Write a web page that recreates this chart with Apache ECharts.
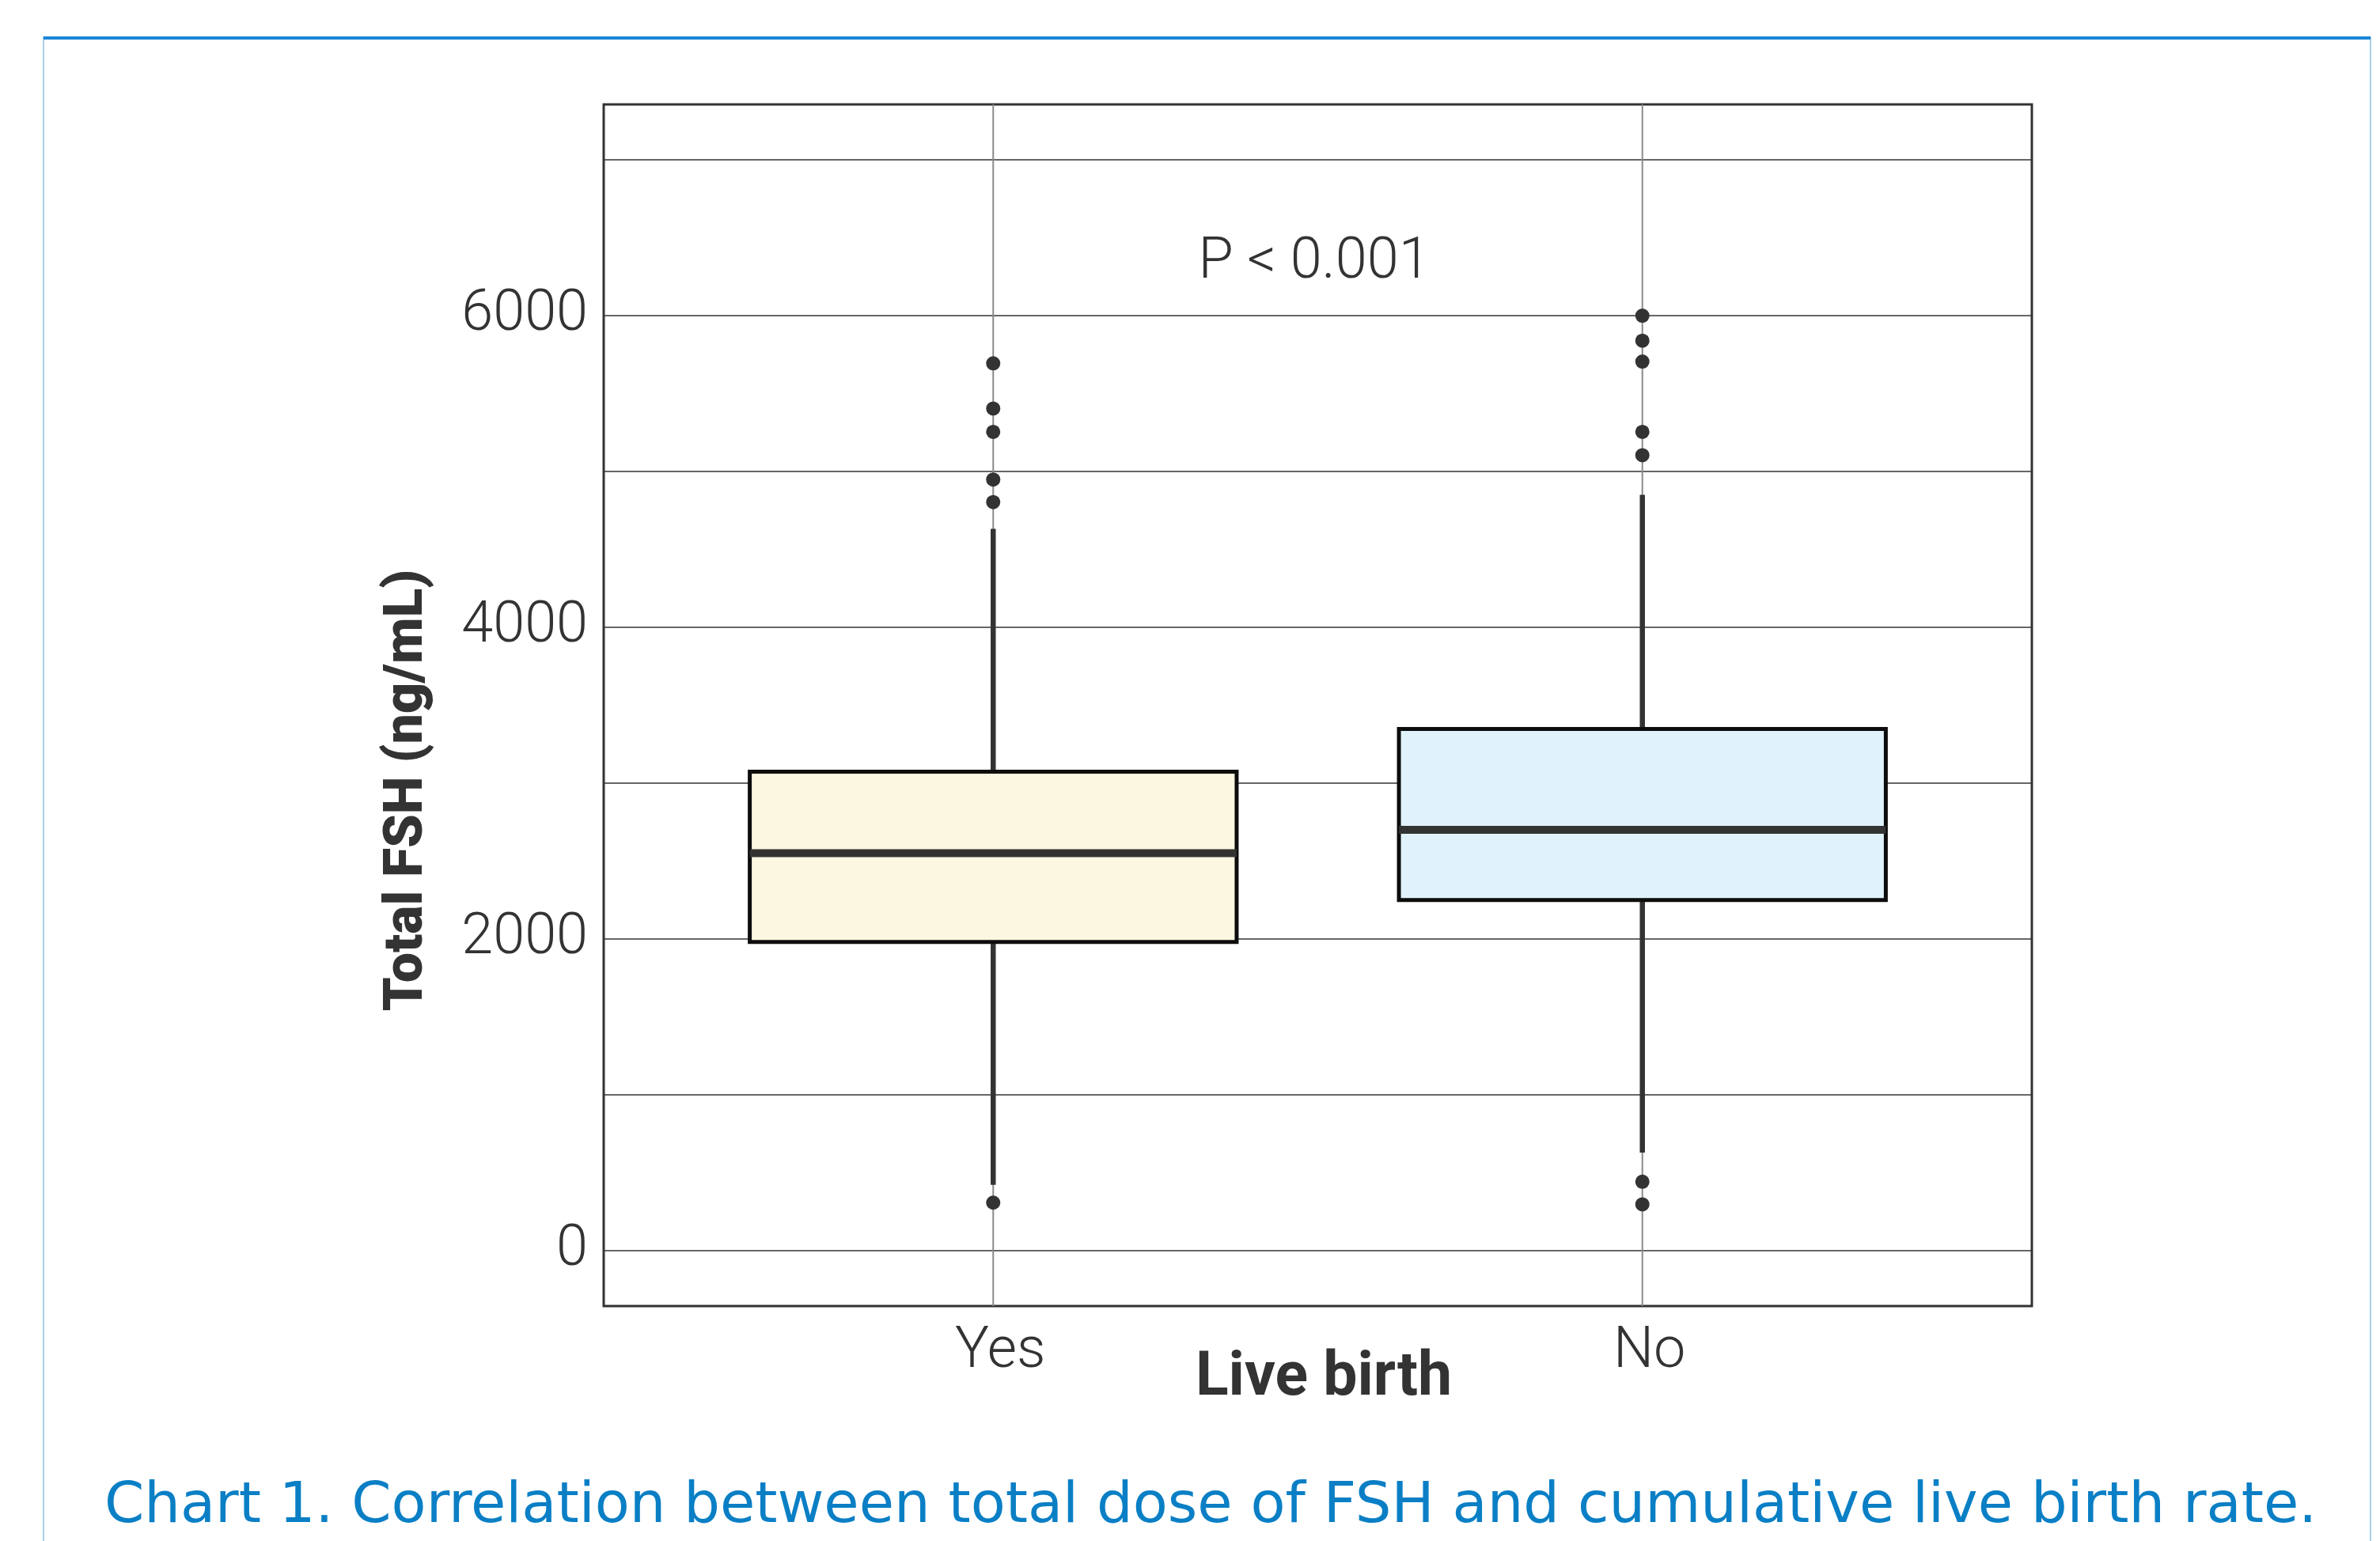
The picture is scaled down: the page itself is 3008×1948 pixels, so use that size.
<!DOCTYPE html>
<html>
<head>
<meta charset="utf-8">
<title>Total FSH and live birth</title>
<script src="https://cdn.jsdelivr.net/npm/echarts@6/dist/echarts.min.js"></script>
<style>
  html, body { margin: 0; padding: 0; background: #fff; }
  #main { width: 3008px; height: 1948px; }
</style>
</head>
<body>
<div id="main"></div>
<script>
// groups on the x axis (placed at 1 and 2)
var groups = ['Yes', 'No']
// box statistics per group
var lowerWhisker = [420, 627]
var q1 = [1979, 2249]
var median = [2549, 2699]
var q3 = [3073, 3347]
var upperWhisker = [4632, 4850]
// outliers
var outliersYes = [5694, 5404, 5254, 4948, 4803, 306]
var outliersNo = [6000, 5839, 5705, 5254, 5104, 440, 295]
var yLabels = [0, 2000, 4000, 6000]

var fillColors = ['#fcf7e0', '#e0f3fa']

setChart()

function setChart() {
  var boxData = []
  for (var i = 0; i < groups.length; i++) {
    boxData.push([i + 1, lowerWhisker[i], q1[i], median[i], q3[i], upperWhisker[i]])
  }
  var pointData = []
  for (var a = 0; a < outliersYes.length; a++) pointData.push([1, outliersYes[a]])
  for (var b = 0; b < outliersNo.length; b++) pointData.push([2, outliersNo[b]])

  var myChart = echarts.init(document.getElementById('main'))
  var option = {
    backgroundColor: '#fff',
    animation: false,
    textStyle: { fontFamily: 'Roboto' },
    grid: {
      left: 763, top: 132, right: 440, bottom: 297,
      show: true, borderColor: '#333', borderWidth: 3
    },
    xAxis: {
      type: 'value',
      min: 0.4, max: 2.6,
      axisLine: { show: false },
      axisTick: { show: false },
      splitLine: { show: false },
      axisLabel: {
        customValues: [1, 2],
        formatter: function(v) { return groups[Math.round(v) - 1] || '' },
        fontSize: 72, fontWeight: 300, color: '#333', margin: 23,
        padding: [0, 0, 0, 18]
      }
    },
    yAxis: {
      type: 'value',
      min: -358, max: 7356,
      splitNumber: 8,
      axisLine: { show: false },
      axisTick: { show: false },
      splitLine: { show: true, lineStyle: { color: '#333', width: 1.5 } },
      axisLabel: {
        formatter: function(v) { return yLabels.indexOf(v) >= 0 ? String(v) : '' },
        fontSize: 72, fontWeight: 300, color: '#333', margin: 20
      }
    },
    graphic: [
      {
        type: 'rect', silent: true,
        shape: { x: 55, y: 47, width: 2941, height: 2000 },
        style: { fill: null, stroke: '#a9d0ea', lineWidth: 2 }
      },
      {
        type: 'line', silent: true,
        shape: { x1: 55, y1: 48, x2: 2996, y2: 48 },
        style: { stroke: '#1a86d6', lineWidth: 4 }
      },
      {
        type: 'text', silent: true,
        x: 516, y: 999, rotation: Math.PI / 2,
        style: {
          text: 'Total FSH (ng/mL)', fontSize: 68, fontWeight: 900, fontFamily: 'Roboto',
          fill: '#333', align: 'center', verticalAlign: 'middle'
        }
      },
      {
        type: 'text', silent: true,
        x: 1673, y: 1744,
        style: {
          text: 'Live birth', fontSize: 77, fontWeight: 'bold', fontFamily: 'Roboto',
          fill: '#333', align: 'center', verticalAlign: 'middle'
        }
      },
      {
        type: 'text', silent: true,
        x: 1661, y: 333,
        style: {
          text: 'P < 0.001', fontSize: 72, fontWeight: 300, fontFamily: 'Roboto',
          fill: '#333', align: 'center', verticalAlign: 'middle'
        }
      },
      {
        type: 'text', silent: true,
        x: 132, y: 1905,
        style: {
          text: 'Chart 1. Correlation between total dose of FSH and cumulative live birth rate.',
          fontSize: 72, fontFamily: 'DejaVu Sans', fill: '#0a7fc5',
          align: 'left', verticalAlign: 'middle'
        }
      }
    ],
    series: [
      {
        type: 'custom',
        data: boxData,
        encode: { x: 0, y: [1, 2, 3, 4, 5] },
        renderItem: function(params, api) {
          var x = api.value(0)
          var cs = params.coordSys
          var lowP = api.coord([x, api.value(1)])
          var q1P = api.coord([x - 0.375, api.value(2)])
          var medL = api.coord([x - 0.375, api.value(3)])
          var medR = api.coord([x + 0.375, api.value(3)])
          var q3P = api.coord([x + 0.375, api.value(4)])
          var highP = api.coord([x, api.value(5)])
          var cx = lowP[0]
          return {
            type: 'group',
            children: [
              { type: 'line', shape: { x1: cx, y1: cs.y, x2: cx, y2: cs.y + cs.height },
                style: { stroke: '#8a8a8a', lineWidth: 2 } },
              { type: 'line', shape: { x1: cx, y1: lowP[1], x2: cx, y2: highP[1] },
                style: { stroke: '#333', lineWidth: 6.5 } },
              { type: 'rect', shape: { x: q1P[0], y: q3P[1], width: q3P[0] - q1P[0], height: q1P[1] - q3P[1] },
                style: { fill: fillColors[params.dataIndex], stroke: '#0d0d0d', lineWidth: 5 } },
              { type: 'line', shape: { x1: medL[0], y1: medL[1], x2: medR[0], y2: medR[1] },
                style: { stroke: '#333', lineWidth: 10 } }
            ]
          }
        }
      },
      {
        type: 'scatter',
        data: pointData,
        symbol: 'circle',
        symbolSize: 18,
        itemStyle: { color: '#333', opacity: 1 }
      }
    ]
  }
  myChart.setOption(option)
}
</script>
</body>
</html>
